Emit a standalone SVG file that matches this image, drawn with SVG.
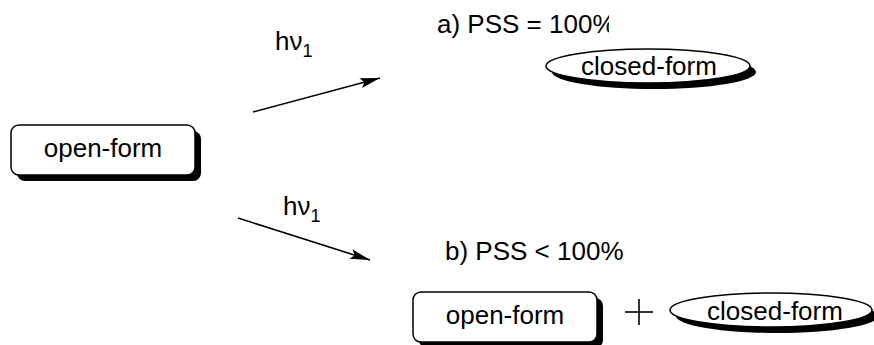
<svg xmlns="http://www.w3.org/2000/svg" width="874" height="345" viewBox="0 0 874 345">
<style>
text{font-family:"Liberation Sans",Arial,Helvetica,sans-serif;font-size:26px;fill:#000}
.c{text-anchor:middle}
.sub{font-size:18px}
.box{fill:#fff;stroke:#000;stroke-width:1.5}
.sh{fill:#000}
.ln{stroke:#000;stroke-width:1.6;fill:none}
</style>
<defs>
<marker id="ah" viewBox="0 0 20 10" refX="20" refY="5" markerWidth="20" markerHeight="10" markerUnits="userSpaceOnUse" orient="auto">
<path d="M0,0 L20,5 L0,10 L4,5 Z" fill="#000"/>
</marker>
<clipPath id="clipA"><rect x="0" y="0" width="609" height="60"/></clipPath>
</defs>
<g id="labels">
<text x="437" y="33" clip-path="url(#clipA)">a) PSS = 100%</text>
<text x="445" y="260">b) PSS &lt; 100%</text>
<text x="275" y="50">hν<tspan class="sub" dy="7">1</tspan></text>
<text x="283" y="215">hν<tspan class="sub" dy="7">1</tspan></text>
</g>
<g id="connectors">
<line class="ln" x1="253" y1="112" x2="380" y2="78" marker-end="url(#ah)"/>
<line class="ln" x1="238" y1="218" x2="370" y2="260" marker-end="url(#ah)"/>
</g>
<g id="open-form-1">
<rect class="sh" x="17" y="131" width="184" height="50" rx="8"/>
<rect class="box" x="11" y="125" width="184" height="50" rx="8"/>
<text class="c" x="103" y="157">open-form</text>
</g>
<g id="closed-form-a">
<ellipse class="sh" cx="654" cy="72" rx="102" ry="17"/>
<ellipse class="box" cx="648" cy="66" rx="102" ry="17"/>
<text class="c" x="649" y="75">closed-form</text>
</g>
<g id="open-form-2">
<rect class="sh" x="419" y="298" width="184" height="50" rx="8"/>
<rect class="box" x="413" y="292" width="184" height="50" rx="8"/>
<text class="c" x="505" y="324">open-form</text>
</g>
<g id="plus">
<line class="ln" x1="625" y1="312" x2="653" y2="312"/>
<line class="ln" x1="639" y1="299" x2="639" y2="325"/>
</g>
<g id="closed-form-b">
<ellipse class="sh" cx="777" cy="316" rx="101" ry="17"/>
<ellipse class="box" cx="771" cy="310" rx="101" ry="17"/>
<text class="c" x="775" y="320">closed-form</text>
</g>
</svg>
